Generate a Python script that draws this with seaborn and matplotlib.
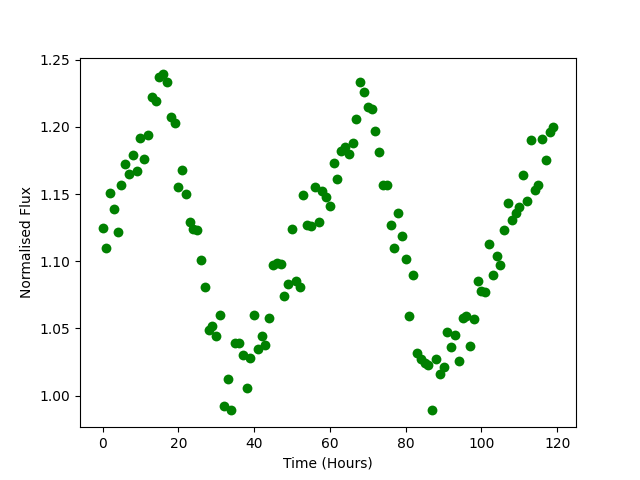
import numpy as np
import pandas as pd
import matplotlib
matplotlib.use("Agg")
import matplotlib.pyplot as plt
import seaborn as sns

# Time in hours, one sample per hour
hours = list(range(120))

# Normalised flux
flux = [
    1.125, 1.110, 1.151, 1.139, 1.122, 1.157, 1.172, 1.165, 1.179, 1.167,
    1.192, 1.176, 1.194, 1.222, 1.219, 1.237, 1.239, 1.233, 1.207, 1.203,
    1.155, 1.168, 1.150, 1.129, 1.124, 1.123, 1.101, 1.081, 1.049, 1.052,
    1.044, 1.060, 0.992, 1.012, 0.989, 1.039, 1.039, 1.030, 1.006, 1.028,
    1.060, 1.035, 1.044, 1.038, 1.058, 1.097, 1.099, 1.098, 1.074, 1.083,
    1.124, 1.085, 1.081, 1.149, 1.127, 1.126, 1.155, 1.129, 1.152, 1.148,
    1.141, 1.173, 1.161, 1.182, 1.185, 1.180, 1.188, 1.206, 1.233, 1.226,
    1.215, 1.213, 1.197, 1.181, 1.157, 1.157, 1.127, 1.110, 1.136, 1.119,
    1.102, 1.059, 1.090, 1.032, 1.027, 1.024, 1.023, 0.989, 1.027, 1.016,
    1.021, 1.047, 1.036, 1.045, 1.026, 1.058, 1.059, 1.037, 1.057, 1.085,
    1.078, 1.077, 1.113, 1.090, 1.104, 1.097, 1.123, 1.143, 1.131, 1.136,
    1.140, 1.164, 1.145, 1.190, 1.153, 1.157, 1.191, 1.175, 1.196, 1.200,
]

df = pd.DataFrame({"time": hours, "flux": flux})

fig, ax = plt.subplots(figsize=(6.4, 4.8), dpi=100)
sns.scatterplot(data=df, x="time", y="flux", color="green",
                s=50, linewidth=0, marker="o", ax=ax)

ax.set_xlabel("Time (Hours)")
ax.set_ylabel("Normalised Flux")
ax.set_xticks([0, 20, 40, 60, 80, 100, 120])

fig.savefig("out.png", dpi=100)
